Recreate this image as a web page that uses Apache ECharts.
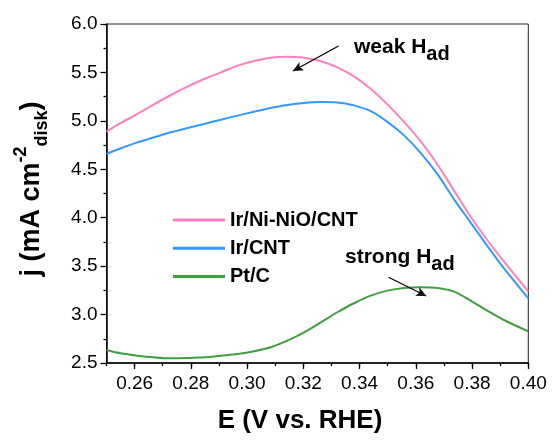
<!DOCTYPE html>
<html>
<head>
<meta charset="utf-8">
<script src="https://cdn.jsdelivr.net/npm/echarts@6/dist/echarts.min.js"></script>
<style>
html,body{margin:0;padding:0;background:#fff;}
#chart{width:552px;height:443px;}
</style>
</head>
<body>
<div id="chart"></div>
<script>
// ---- data ----
const seriesNames = ['Ir/Ni-NiO/CNT', 'Ir/CNT', 'Pt/C'];
const potentialE = [0.25, 0.2551, 0.2610, 0.2669, 0.2729, 0.2788, 0.2847, 0.2907, 0.2966, 0.3025, 0.3084, 0.3143, 0.3203,
  0.3262, 0.3321, 0.3380, 0.3440, 0.3499, 0.3558, 0.3617, 0.3677, 0.3736, 0.3795, 0.3854, 0.3913, 0.40];
const irNiJ = [4.889, 4.978, 5.071, 5.171, 5.267, 5.353, 5.432, 5.501, 5.570, 5.618, 5.652, 5.663, 5.652,
  5.615, 5.553, 5.460, 5.330, 5.170, 4.990, 4.790, 4.550, 4.280, 4.010, 3.770, 3.550, 3.240];
const irJ = [4.658, 4.717, 4.778, 4.830, 4.882, 4.926, 4.968, 5.012, 5.054, 5.095, 5.133, 5.164, 5.185,
  5.194, 5.190, 5.160, 5.100, 4.990, 4.850, 4.670, 4.450, 4.190, 3.950, 3.710, 3.480, 3.168];
const ptJ = [2.635, 2.600, 2.576, 2.559, 2.549, 2.552, 2.559, 2.576, 2.593, 2.621, 2.662, 2.731, 2.817,
  2.920, 3.024, 3.117, 3.196, 3.247, 3.275, 3.282, 3.275, 3.237, 3.144, 3.041, 2.944, 2.827];
const xMajorTicks = [0.26, 0.28, 0.30, 0.32, 0.34, 0.36, 0.38, 0.40];
const weakArrow = [[0.3325, 5.773], [0.3163, 5.515]];
const strongArrow = [[0.3503, 3.385], [0.3637, 3.192]];
const colors = ['#ff7fc0', '#3399ff', '#3f9e3f'];

const zip = (a, b) => a.map((v, i) => [v, b[i]]);
const FONT = "'Liberation Sans', Arial, sans-serif";

const chart = echarts.init(document.getElementById('chart'), null, {renderer: 'canvas'});

function arrowLine(pts) {
  return {
    silent: true,
    symbol: ['none', 'arrow'],
    symbolSize: [7, 10],
    label: {show: false},
    lineStyle: {color: '#000', width: 1.3, type: 'solid'},
    emphasis: {disabled: true},
    data: [[{coord: pts[0]}, {coord: pts[1]}]]
  };
}

const option = {
  animation: false,
  color: colors,
  grid: {left: 106.5, right: 23.7, top: 24, bottom: 80, show: true, borderColor: '#222', borderWidth: 1},
  legend: {
    data: seriesNames,
    orient: 'vertical',
    left: 168,
    top: 204,
    icon: 'rect',
    itemWidth: 52,
    itemHeight: 3,
    itemGap: 6.3,
    textStyle: {fontFamily: FONT, fontWeight: 'bold', fontSize: 20, color: '#000', lineHeight: 22}
  },
  xAxis: [{
    type: 'value', min: 0.25, max: 0.40, interval: 0.01,
    axisLine: {show: true, lineStyle: {color: '#000', width: 1.5}},
    axisTick: {show: true, length: 6, customValues: xMajorTicks, lineStyle: {color: '#000', width: 1.3}},
    axisLabel: {customValues: xMajorTicks, margin: 11, fontFamily: FONT, fontSize: 19, color: '#000',
      formatter: v => v.toFixed(2)},
    splitLine: {show: false}
  }, {
    type: 'value', min: 0.25, max: 0.40, interval: 0.01, position: 'bottom',
    axisLine: {show: false},
    axisTick: {show: true, length: 3, lineStyle: {color: '#000', width: 1.3}},
    axisLabel: {show: false},
    splitLine: {show: false}
  }],
  yAxis: {
    type: 'value', min: 2.5, max: 6.0, interval: 0.5,
    axisLine: {show: true, lineStyle: {color: '#000', width: 1.5}},
    axisTick: {show: true, length: 6, lineStyle: {color: '#000', width: 1.3}},
    minorTick: {show: true, splitNumber: 2, length: 3, lineStyle: {color: '#000', width: 1.3}},
    axisLabel: {margin: 9, fontFamily: FONT, fontSize: 19, color: '#000', formatter: v => v.toFixed(1)},
    splitLine: {show: false}
  },
  series: [
    {name: seriesNames[0], type: 'line', smooth: 0.3, symbol: 'none', data: zip(potentialE, irNiJ),
     lineStyle: {width: 2}, z: 3, markLine: arrowLine(weakArrow)},
    {name: seriesNames[1], type: 'line', smooth: 0.3, symbol: 'none', data: zip(potentialE, irJ),
     lineStyle: {width: 2}, z: 3},
    {name: seriesNames[2], type: 'line', smooth: 0.3, symbol: 'none', data: zip(potentialE, ptJ),
     lineStyle: {width: 2}, z: 3, markLine: arrowLine(strongArrow)}
  ],
  graphic: [
    {
      type: 'text', left: 354, top: 37, z: 10,
      style: {
        text: '{m|weak H}{s|ad}',
        rich: {
          m: {fontFamily: FONT, fontWeight: 'bold', fontSize: 21, fill: '#000', lineHeight: 27, verticalAlign: 'top'},
          s: {fontFamily: FONT, fontWeight: 'bold', fontSize: 20, fill: '#000', lineHeight: 27, verticalAlign: 'bottom', padding: [7, 0, 0, 0]}
        }
      }
    },
    {
      type: 'text', left: 345, top: 247, z: 10,
      style: {
        text: '{m|strong H}{s|ad}',
        rich: {
          m: {fontFamily: FONT, fontWeight: 'bold', fontSize: 21, fill: '#000', lineHeight: 27, verticalAlign: 'top'},
          s: {fontFamily: FONT, fontWeight: 'bold', fontSize: 20, fill: '#000', lineHeight: 27, verticalAlign: 'bottom', padding: [7, 0, 0, 0]}
        }
      }
    },
    {
      type: 'text', x: 32, y: 189, rotation: Math.PI / 2, z: 10,
      style: {
        text: '{m|j (mA cm}{p|-2}{b|disk}{m|)}',
        align: 'center', verticalAlign: 'middle',
        rich: {
          m: {fontFamily: FONT, fontWeight: 'bold', fontSize: 27, fill: '#000', lineHeight: 39},
          p: {fontFamily: FONT, fontWeight: 'bold', fontSize: 18, fill: '#000', lineHeight: 39, verticalAlign: 'top'},
          b: {fontFamily: FONT, fontWeight: 'bold', fontSize: 18, fill: '#000', lineHeight: 39, verticalAlign: 'bottom'}
        }
      }
    },
    {
      type: 'text', x: 300, y: 421, z: 10,
      style: {
        text: 'E (V vs. RHE)', align: 'center', verticalAlign: 'middle',
        fontFamily: FONT, fontWeight: 'bold', fontSize: 26, fill: '#000'
      }
    }
  ]
};
chart.setOption(option);
</script>
</body>
</html>
